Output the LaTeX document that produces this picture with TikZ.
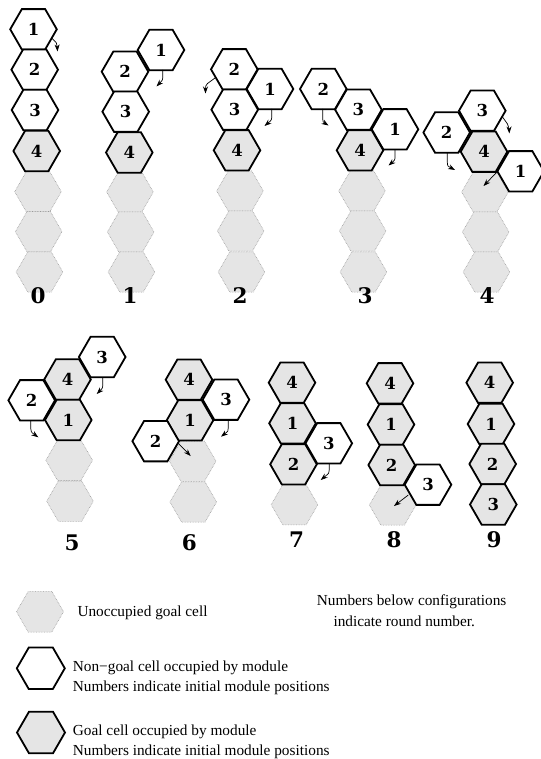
\documentclass[tikz,border=0pt]{standalone}
\usepackage{fontspec}
\newfontfamily\legendfont{Liberation Serif}
\newfontfamily\digitfont{DejaVu Serif}
\usetikzlibrary{shapes.geometric,arrows.meta}
\definecolor{goalgray}{gray}{0.9}
\definecolor{dotgray}{gray}{0.6}
\begin{document}
\begin{tikzpicture}[x=1pt,y=-1pt,
  hexbase/.style={regular polygon, regular polygon sides=6, minimum size=46.6pt, inner sep=0pt, outer sep=0pt, font=\digitfont\fontsize{16.5}{16.5}\selectfont\bfseries},
  freecell/.style={hexbase, draw=black, line width=1.8pt, fill=white},
  goalcell/.style={hexbase, draw=black, line width=1.8pt, fill=goalgray},
  emptygoal/.style={hexbase, draw=dotgray, densely dotted, line width=0.6pt, fill=goalgray},
  roundlabel/.style={font=\digitfont\fontsize{21.5}{21.5}\selectfont\bfseries, inner sep=0pt},
  movearrow/.style={line width=0.7pt, -{Stealth[length=7pt,width=5pt]}},
  legendtext/.style={font=\legendfont\fontsize{15.3}{15.3}\selectfont, inner sep=0pt, anchor=base west}
]
\useasboundingbox[fill=white] (0,0) rectangle (540,759);

% ---------- configuration 0 ----------
\node[emptygoal] (c0g1) at (38,191.7) {};
\node[emptygoal] (c0g2) at (38.7,231.7) {};
\node[emptygoal] (c0g3) at (39.5,272) {};
\node[freecell] (c0m1) at (33.5,29.3) {1};
\node[freecell] (c0m2) at (34.7,69.7) {2};
\node[freecell] (c0m3) at (35,110) {3};
\node[goalcell] (c0m4) at (36.7,151) {4};
\node[roundlabel] (r0) at (38,296) {0};
\draw[movearrow] (51.5,38) .. controls (57,43) .. (57.5,51.5);

% ---------- configuration 1 ----------
\node[emptygoal] (c1g1) at (130,192) {};
\node[emptygoal] (c1g2) at (130.7,232) {};
\node[emptygoal] (c1g3) at (131.5,272) {};
\node[freecell] (c1m1) at (161,50) {1};
\node[freecell] (c1m2) at (125,71.7) {2};
\node[freecell] (c1m3) at (125.7,111.7) {3};
\node[goalcell] (c1m4) at (129.3,152.5) {4};
\node[roundlabel] (r1) at (130,296) {1};
\draw[movearrow] (162.7,70) -- (162.7,76) .. controls (162.7,80) .. (156.5,86.5);

% ---------- configuration 2 ----------
\node[emptygoal] (c2g1) at (240,191) {};
\node[emptygoal] (c2g2) at (240.7,231) {};
\node[emptygoal] (c2g3) at (241.5,272) {};
\node[freecell] (c2m2) at (234.3,69.3) {2};
\node[freecell] (c2m1) at (270,89) {1};
\node[freecell] (c2m3) at (234.7,109.7) {3};
\node[goalcell] (c2m4) at (237,150.3) {4};
\node[roundlabel] (r2) at (240,296) {2};
\draw[movearrow] (215,78) -- (207.5,83.5) .. controls (205.5,86) .. (205.5,93.5);
\draw[movearrow] (271.7,109) -- (271.7,116) .. controls (271.7,120) .. (264.5,126);

% ---------- configuration 3 ----------
\node[emptygoal] (c3g1) at (362,191) {};
\node[emptygoal] (c3g2) at (362.7,231) {};
\node[emptygoal] (c3g3) at (363.5,272) {};
\node[freecell] (c3m2) at (323.3,89) {2};
\node[freecell] (c3m3) at (358.4,109.7) {3};
\node[freecell] (c3m1) at (395,129.3) {1};
\node[goalcell] (c3m4) at (360,150.3) {4};
\node[roundlabel] (r3) at (365,296) {3};
\draw[movearrow] (322.7,109) -- (322.7,119) .. controls (323,122) .. (328.5,125.5);
\draw[movearrow] (395,149.5) -- (395,156) .. controls (395,160) .. (388.5,165.5);

% ---------- configuration 4 ----------
\node[emptygoal] (c4g1) at (485,192) {};
\node[emptygoal] (c4g2) at (485.7,232) {};
\node[emptygoal] (c4g3) at (486.5,272) {};
\node[freecell] (c4m3) at (482.3,110.7) {3};
\node[freecell] (c4m2) at (446.7,132.5) {2};
\node[goalcell] (c4m4) at (484,151.7) {4};
\node[freecell] (c4m1) at (520.7,171.3) {1};
\node[roundlabel] (r4) at (487,296) {4};
\draw[movearrow] (502.5,117) -- (507.5,124) .. controls (509,126) .. (509.3,133.5);
\draw[movearrow] (447.3,152.5) -- (447.3,162) .. controls (447.5,166) .. (455,170);
\draw[movearrow] (497,172) -- (483.5,186);

% ---------- configuration 5 ----------
\node[emptygoal] (c5g1) at (69.2,460.3) {};
\node[emptygoal] (c5g2) at (70,501.2) {};
\node[freecell] (c5m3) at (102.2,357) {3};
\node[goalcell] (c5m4) at (67.5,379.5) {4};
\node[freecell] (c5m2) at (31.7,400.3) {2};
\node[goalcell] (c5m1) at (68.3,420) {1};
\node[roundlabel] (r5) at (72,543) {5};
\draw[movearrow] (102.7,377.5) -- (102.7,384) .. controls (102.7,388) .. (96.7,394);
\draw[movearrow] (30.7,420.5) -- (30.7,428.5) .. controls (31,432) .. (38.3,437.3);

% ---------- configuration 6 ----------
\node[emptygoal] (c6g1) at (192.7,461.2) {};
\node[emptygoal] (c6g2) at (193.3,502) {};
\node[goalcell] (c6m4) at (189,379.7) {4};
\node[freecell] (c6m3) at (226,399.7) {3};
\node[goalcell] (c6m1) at (190,420.3) {1};
\node[freecell] (c6m2) at (155.7,441.2) {2};
\node[roundlabel] (r6) at (189.3,543) {6};
\draw[movearrow] (228.3,420) -- (228.3,427.5) .. controls (228.3,431) .. (221,436.7);
\draw[movearrow] (178.3,443.3) -- (190.7,456);

% ---------- configuration 7 ----------
\node[emptygoal] (c7g1) at (294.5,504.7) {};
\node[goalcell] (c7m4) at (292,382.7) {4};
\node[goalcell] (c7m1) at (292.5,423.3) {1};
\node[freecell] (c7m3) at (328.8,443.3) {3};
\node[goalcell] (c7m2) at (293.5,464.3) {2};
\node[roundlabel] (r7) at (296.7,540) {7};
\draw[movearrow] (329.3,463.3) -- (329.3,469.5) .. controls (329.3,473) .. (320.7,480);

% ---------- configuration 8 ----------
\node[emptygoal] (c8g1) at (392.7,505) {};
\node[goalcell] (c8m4) at (390,383.3) {4};
\node[goalcell] (c8m1) at (391,424.5) {1};
\node[goalcell] (c8m2) at (391.7,465) {2};
\node[freecell] (c8m3) at (428,484.7) {3};
\node[roundlabel] (r8) at (394,540) {8};
\draw[movearrow] (408.3,495) -- (394,506);

% ---------- configuration 9 ----------
\node[goalcell] (c9m4) at (489.7,382.7) {4};
\node[goalcell] (c9m1) at (491,424) {1};
\node[goalcell] (c9m2) at (492.7,464) {2};
\node[goalcell] (c9m3) at (493.3,504.5) {3};
\node[roundlabel] (r9) at (494,540) {9};

% ---------- legend ----------
\node[emptygoal, minimum size=47pt] (lg1) at (40,611.7) {};
\node[freecell, minimum size=48pt] (lg2) at (40.8,668.3) {};
\node[goalcell, minimum size=48pt] (lg3) at (41,732.5) {};
\node[legendtext] (t1) at (77.3,616.5) {Unoccupied goal cell};
\node[legendtext] (t2) at (72.7,671) {Non−goal cell occupied by module};
\node[legendtext] (t3) at (72.7,691) {Numbers indicate initial module positions};
\node[legendtext] (t4) at (72.7,735) {Goal cell occupied by module};
\node[legendtext] (t5) at (72.7,755) {Numbers indicate initial module positions};
\node[legendtext] (t6) at (316.7,605.5) {Numbers below configurations};
\node[legendtext] (t7) at (333.3,626.5) {indicate round number.};
\end{tikzpicture}
\end{document}
